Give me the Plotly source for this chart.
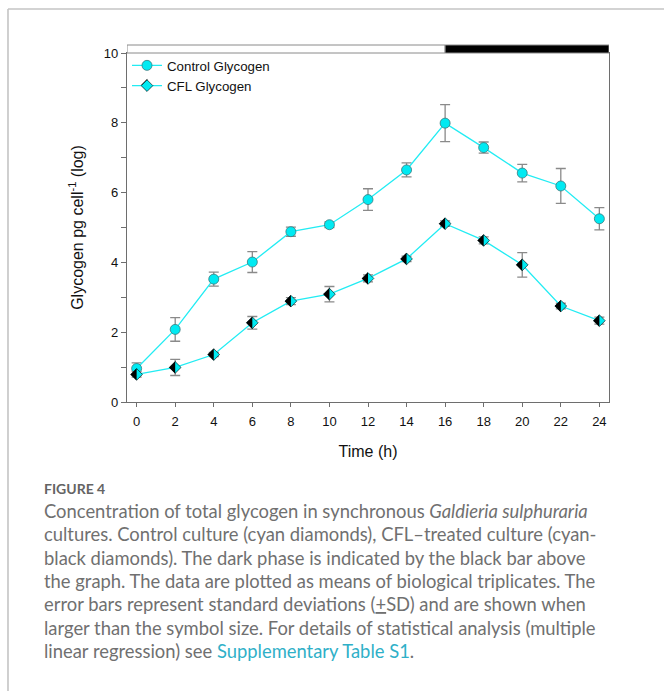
import plotly.graph_objects as go

# ---- data ----
time_h = [0, 2, 4, 6, 8, 10, 12, 14, 16, 18, 20, 22, 24]
control_mean = [0.96, 2.08, 3.52, 4.01, 4.88, 5.08, 5.80, 6.65, 7.99, 7.29, 6.56, 6.19, 5.25]
control_sd = [0.16, 0.34, 0.20, 0.30, 0.13, 0.08, 0.31, 0.20, 0.53, 0.16, 0.25, 0.50, 0.32]
cfl_mean = [0.79, 0.99, 1.36, 2.27, 2.89, 3.09, 3.54, 4.10, 5.11, 4.63, 3.93, 2.75, 2.33]
cfl_sd = [0.08, 0.23, 0.06, 0.18, 0.10, 0.22, 0.10, 0.08, 0.08, 0.10, 0.35, 0.08, 0.10]
x_ticks = [0, 2, 4, 6, 8, 10, 12, 14, 16, 18, 20, 22, 24]
y_ticks = [0, 2, 4, 6, 8, 10]
dark_start = 16
x_range = [-0.5, 24.5]
y_range = [0, 10]

caption_title = "FIGURE 4"
caption_lines = [
    "Concentration of total glycogen in synchronous <i>Galdieria sulphuraria</i>",
    "cultures. Control culture (cyan diamonds), CFL\u2013treated culture (cyan-",
    "black diamonds). The dark phase is indicated by the black bar above",
    "the graph. The data are plotted as means of biological triplicates. The",
    "error bars represent standard deviations (<u>+</u>SD) and are shown when",
    "larger than the symbol size. For details of statistical analysis (multiple",
    "linear regression) see <span style='color:#2fb0c8'>Supplementary Table S1</span>.",
]

# ---- geometry ----
W, H = 664, 691
L, R, T, B = 127, 55, 53, 289
PW, PH = W - L - R, H - T - B


def px2x(px):
    return (px - L) / PW


def py2y(py):
    return (H - B - py) / PH


CYAN_LINE = "#22ecf3"
CYAN_FILL = "#00eaf2"
ERR = "#8a8a8a"
AXIS = "#6e6e6e"
FONT = "Liberation Sans"
DIAM_SIZE = 9

fig = go.Figure()
fig.add_trace(go.Scatter(
    x=time_h, y=control_mean, mode="lines+markers", name="Control Glycogen",
    line=dict(color=CYAN_LINE, width=1.3),
    marker=dict(symbol="circle", size=10, color=CYAN_FILL,
                line=dict(color="#3a7a7e", width=0.8)),
    error_y=dict(type="data", array=control_sd, color=ERR, thickness=1.3, width=5),
))
fig.add_trace(go.Scatter(
    x=time_h, y=cfl_mean, mode="lines+markers", name="CFL Glycogen",
    line=dict(color=CYAN_LINE, width=1.3),
    marker=dict(symbol="diamond", size=DIAM_SIZE, color=CYAN_FILL,
                line=dict(color="#000000", width=0.6)),
    error_y=dict(type="data", array=cfl_sd, color=ERR, thickness=1.3, width=5),
))

shapes = []
h = round(0.65 * DIAM_SIZE + 0.3, 2)
half_path = f"M{-h},0 L0,{h} L0,{-h} Z"
# black left halves of the CFL diamonds
for t, v in zip(time_h, cfl_mean):
    shapes.append(dict(type="path", xref="x", yref="y", xsizemode="pixel",
                       ysizemode="pixel", xanchor=t, yanchor=v, path=half_path,
                       fillcolor="#000000", line=dict(width=0), layer="above"))

# light / dark phase bar above the graph
bar_h = 8 / PH
shapes.append(dict(type="rect", xref="x", yref="paper", x0=x_range[0], x1=dark_start,
                   y0=1, y1=1 + bar_h, fillcolor="white",
                   line=dict(color="#8a8a8a", width=1)))
shapes.append(dict(type="rect", xref="x", yref="paper", x0=dark_start, x1=x_range[1],
                   y0=1, y1=1 + bar_h, fillcolor="black",
                   line=dict(color="#8a8a8a", width=1)))

# page frame lines (left and top)
shapes.append(dict(type="line", xref="paper", yref="paper", x0=px2x(8), x1=px2x(8),
                   y0=py2y(9), y1=py2y(H + 2), line=dict(color="#c4c4c4", width=1.6)))
shapes.append(dict(type="line", xref="paper", yref="paper", x0=px2x(8), x1=px2x(W + 2),
                   y0=py2y(9), y1=py2y(9), line=dict(color="#c4c4c4", width=1.6)))

# legend half-diamond for CFL
shapes.append(dict(type="path", xref="paper", yref="paper", xsizemode="pixel",
                   ysizemode="pixel", xanchor=px2x(147.3), yanchor=py2y(85),
                   path=half_path, fillcolor="#000000", line=dict(width=0), layer="above"))

annotations = [dict(text="<b>" + caption_title + "</b>", xref="paper", yref="paper",
                    x=px2x(42), y=py2y(488.5), xanchor="left", yanchor="middle",
                    showarrow=False, font=dict(family="Lato", size=14, color="#646464"))]
for i, line in enumerate(caption_lines):
    annotations.append(dict(text=line, xref="paper", yref="paper",
                            x=px2x(42), y=py2y(511 + 23.3 * i), xanchor="left",
                            yanchor="middle", showarrow=False,
                            font=dict(family="Lato", size=18.4, color="#707070")))

fig.update_layout(
    width=W, height=H, margin=dict(l=L, r=R, t=T, b=B),
    paper_bgcolor="white", plot_bgcolor="white",
    font=dict(family=FONT, size=13, color="#111111"),
    showlegend=True,
    legend=dict(x=0.0, y=1.008, xanchor="left", yanchor="top",
                bgcolor="rgba(0,0,0,0)", font=dict(family=FONT, size=13.3, color="#111111"),
                tracegroupgap=0),
    shapes=shapes, annotations=annotations,
)
fig.update_xaxes(range=x_range, tickvals=x_ticks, ticks="outside", ticklen=4,
                 tickcolor=AXIS, showline=True, linecolor=AXIS, linewidth=1.3,
                 mirror=True, showgrid=False, zeroline=False, ticklabelstandoff=3,
                 tickfont=dict(family=FONT, size=13),
                 title=dict(text="Time (h)", font=dict(family=FONT, size=16), standoff=18))
fig.update_yaxes(range=y_range, tickvals=y_ticks, ticks="outside", ticklen=5,
                 tickcolor=AXIS, showline=True, linecolor=AXIS, linewidth=1.3,
                 mirror=True, showgrid=False, zeroline=False,
                 minor=dict(dtick=1, ticks="outside", ticklen=5, tickcolor=AXIS, showgrid=False),
                 tickfont=dict(family=FONT, size=13),
                 title=dict(text="Glycogen pg cell<sup>-1</sup> (log)",
                            font=dict(family=FONT, size=16), standoff=16))

fig.write_html("out.html")
